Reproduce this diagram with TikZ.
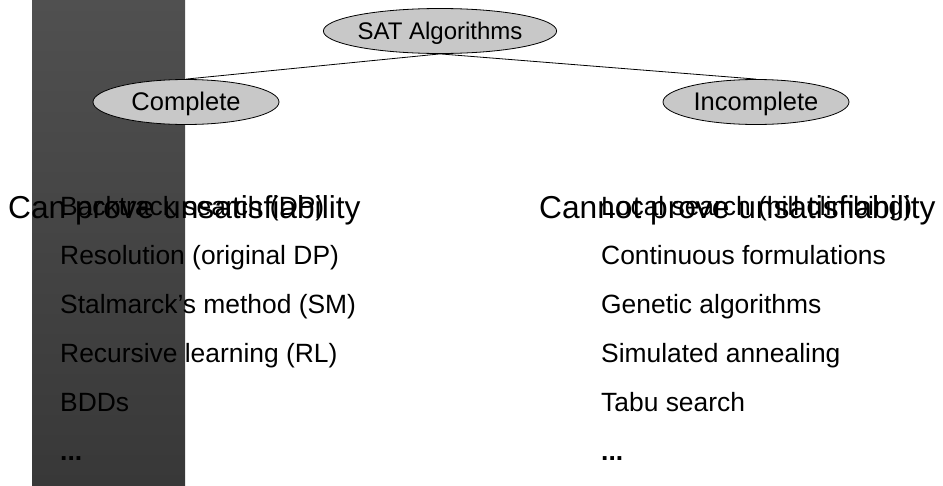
\documentclass[tikz,border=0pt]{standalone}
\usepackage{fontspec}
\setmainfont{Liberation Sans}
\usetikzlibrary{shapes.geometric}
\definecolor{ovalgray}{RGB}{200,200,200}
\definecolor{bartop}{RGB}{80,80,80}
\definecolor{barbot}{RGB}{56,56,56}
\begin{document}
\begin{tikzpicture}[x=1pt,y=-1pt,
  oval/.style={ellipse, draw=black, line width=0.8pt, fill=ovalgray, inner sep=0pt,
    text height=17pt, text depth=0pt, font=\fontsize{25.5}{26}\selectfont},
  head/.style={anchor=base west, inner sep=0pt, font=\fontsize{31.7}{32}\selectfont},
  item/.style={anchor=base west, inner sep=0pt, font=\fontsize{26.4}{27}\selectfont},
  link/.style={line width=0.8pt}
  ]
\useasboundingbox (0,0) rectangle (943,485);
\shade[top color=bartop, bottom color=barbot] (32,0) rectangle (185,485);

\node[oval, minimum width=214pt, minimum height=45pt, font=\fontsize{24}{24}\selectfont, text height=16.5pt] (sat) at (440,31) {SAT Algorithms};
\node[oval, minimum width=186pt, minimum height=45pt] (comp) at (186,102) {Complete};
\node[oval, minimum width=186pt, minimum height=45pt] (inc) at (756,102) {Incomplete};
\draw[link] (sat.south) -- (comp.north);
\draw[link] (sat.south) -- (inc.north);

\node[head] (canh) at (8,218) {Can prove unsatisfiability};
\node[head] (cannoth) at (539,218) {Cannot prove unsatisfiability};

\node[item] (l1) at (60,215) {Backtrack search (DP)};
\node[item] (l2) at (60,264) {Resolution (original DP)};
\node[item] (l3) at (60,313) {Stalmarck’s method (SM)};
\node[item] (l4) at (60,362) {Recursive learning (RL)};
\node[item] (l5) at (60,411) {BDDs};
\node[item] (l6) at (60,460) {\bfseries ...};

\node[item] (r1) at (601,215) {Local search (hill climbing)};
\node[item] (r2) at (601,264) {Continuous formulations};
\node[item] (r3) at (601,313) {Genetic algorithms};
\node[item] (r4) at (601,362) {Simulated annealing};
\node[item] (r5) at (601,411) {Tabu search};
\node[item] (r6) at (601,460) {\bfseries ...};
\end{tikzpicture}
\end{document}
